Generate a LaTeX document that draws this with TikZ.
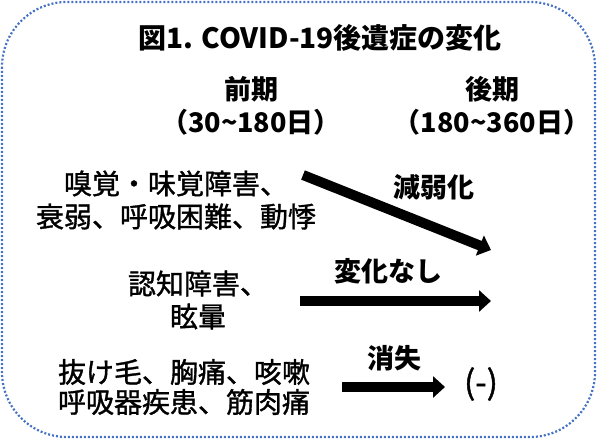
\documentclass[tikz,border=0pt]{standalone}
\usepackage{fontspec}
\setmainfont{Noto Sans CJK JP}
\newfontfamily\jpmed[FakeBold=1.2]{Noto Sans CJK JP}
\usetikzlibrary{arrows.meta}
\definecolor{frameblue}{RGB}{68,114,196}
\tikzset{
  frame/.style={draw=frameblue, line width=2.2pt, dash pattern=on 2pt off 2pt, rounded corners=65pt},
  titletext/.style={inner sep=0pt, font=\fontsize{28}{32}\selectfont\bfseries},
  headtext/.style={inner sep=0pt, align=center, font=\fontsize{27}{33}\selectfont\bfseries},
  bodytext/.style={inner sep=0pt, align=center, font=\fontsize{28}{33}\selectfont\jpmed},
  bodytight/.style={inner sep=0pt, align=center, font=\fontsize{28}{30}\selectfont\jpmed},
  lbltext/.style={inner sep=0pt, font=\fontsize{27}{32}\selectfont\bfseries},
  fattext/.style={inner sep=0pt, font=\fontsize{33}{36}\selectfont\jpmed},
  fatarrow/.style={line width=10pt, -{Triangle[width=21pt,length=12pt]}}
}
\begin{document}
\begin{tikzpicture}[x=1pt,y=-1pt]
\useasboundingbox (0,0) rectangle (600,441);
\draw[frame] (2,2) rectangle (595,437);

\node[titletext] (title) at (320,38) {図1. COVID-19後遺症の変化};

\node[headtext] (early) at (251,105.5) {前期\\（30\textasciitilde180日）};
\node[headtext] (late) at (492,105.5) {後期\\（180\textasciitilde360日）};

\node[bodytext] (row1) at (176,200) {嗅覚・味覚障害、\\衰弱、呼吸困難、動悸};
\node[bodytext] (row2) at (198,300) {認知障害、\\眩暈};
\node[bodytight] (row3) at (184,387) {抜け毛、胸痛、咳嗽\\呼吸器疾患、筋肉痛};

\coordinate (a1s) at (303,175);
\coordinate (a1e) at (491,250);
\coordinate (a2s) at (300,301);
\coordinate (a2e) at (491,301);
\coordinate (a3s) at (342,387);
\coordinate (a3e) at (445,387);

\draw[fatarrow] (a1s) -- (a1e);
\draw[fatarrow] (a2s) -- (a2e);
\draw[fatarrow] (a3s) -- (a3e);

\node[lbltext] (l1) at (434,187) {減弱化};
\node[lbltext] (l2) at (388,271) {変化なし};
\node[lbltext] (l3) at (394,358) {消失};
\node[fattext] (none) at (481,384) {(-)};
\end{tikzpicture}
\end{document}
